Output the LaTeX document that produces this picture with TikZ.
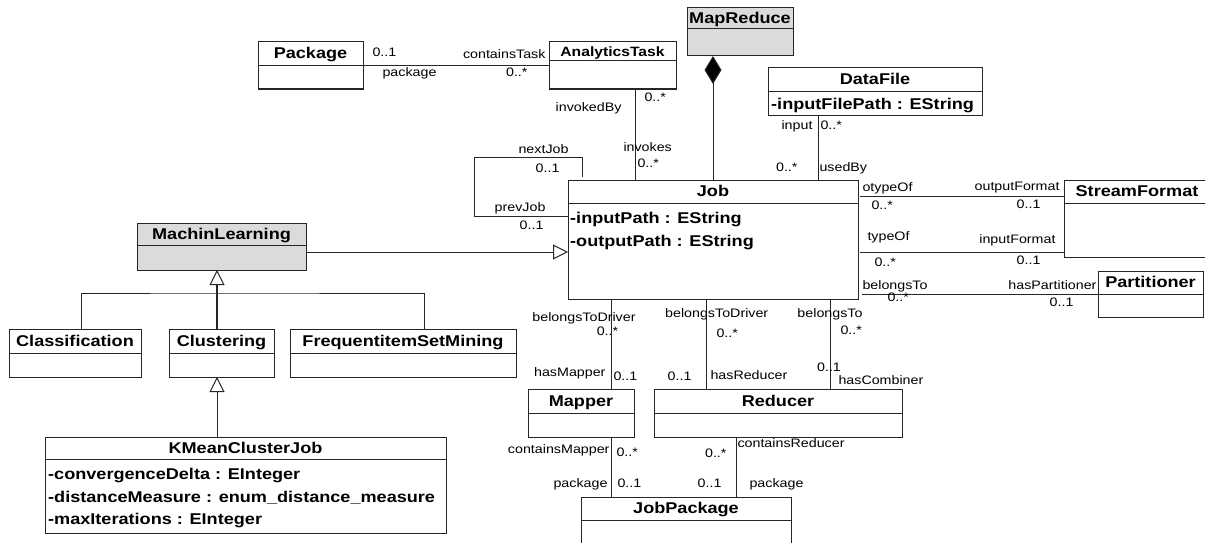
\documentclass[tikz,border=0pt]{standalone}
\usepackage{fontspec}
\setmainfont{Liberation Sans}[FakeStretch=1.16]
\usetikzlibrary{arrows.meta, positioning, calc}

\newcommand\lblfont{\fontsize{12.3}{14}\selectfont}
\newcommand\clsfont{\fontsize{15.6}{18}\selectfont\bfseries}

\tikzset{
  cls/.style={draw=black!85, line width=1pt, anchor=north west, inner sep=0pt, outer sep=0pt,
    font=\clsfont, text height=12pt, text depth=2pt},
  clsbody/.style={draw=black!85, line width=1pt, anchor=north west, inner sep=0pt, outer sep=0pt},
  abstract/.style={fill=black!14},
  attr/.style={anchor=west, inner sep=0pt, font=\clsfont, text height=12pt, text depth=2pt},
  lbl/.style={inner sep=0pt, font=\lblfont, text height=9pt, text depth=1pt},
  assoc/.style={draw=black!85, line width=1pt},
  gen/.style={assoc, -{Triangle[open, length=15pt, width=15pt, line width=1pt, fill=white]}},
  comp/.style={assoc, -{Diamond[length=28pt, width=17pt, fill=black]}},
}

\begin{document}
\begin{tikzpicture}[x=1pt, y=-1pt]
\useasboundingbox (0,0) rectangle (1205,543);

% classes
  \node[cls, minimum width=105pt, minimum height=24pt] (pkg) at (258,42) {Package};
  \node[clsbody, minimum width=105pt, minimum height=23pt] (pkg-b) at (pkg.south west) {};
  \node[cls, minimum width=127pt, minimum height=19pt, font=\fontsize{13.5}{16}\selectfont\bfseries] (atask) at (549,42) {AnalyticsTask};
  \node[clsbody, minimum width=127pt, minimum height=28pt] (atask-b) at (atask.south west) {};
  \node[cls, abstract, minimum width=106pt, minimum height=21pt] (mapred) at (687,8) {MapReduce};
  \node[clsbody, abstract, minimum width=106pt, minimum height=27pt] (mapred-b) at (mapred.south west) {};
  \node[cls, minimum width=214pt, minimum height=23pt] (dfile) at (768,68) {DataFile};
  \node[clsbody, minimum width=214pt, minimum height=24pt] (dfile-b) at (dfile.south west) {};
  \node[attr] (dfile-a1) at ([xshift=3pt, yshift=-14pt]dfile-b.north west) {-inputFilePath : EString};

  \node[cls, minimum width=290pt, minimum height=23pt] (job) at (568,180) {Job};
  \node[clsbody, minimum width=290pt, minimum height=96pt] (job-b) at (job.south west) {};
  \node[attr] (job-a1) at ([xshift=2pt, yshift=-15pt]job-b.north west) {-inputPath : EString};
  \node[attr] (job-a2) at ([xshift=2pt, yshift=-38pt]job-b.north west) {-outputPath : EString};

  \node[cls, minimum width=146pt, minimum height=23pt] (sfmt) at (1064,180) {StreamFormat};
  \node[clsbody, minimum width=146pt, minimum height=54pt] (sfmt-b) at (sfmt.south west) {};
  \node[cls, minimum width=105pt, minimum height=23pt] (part) at (1098,271) {Partitioner};
  \node[clsbody, minimum width=105pt, minimum height=23pt] (part-b) at (part.south west) {};

  \node[cls, abstract, minimum width=169pt, minimum height=22pt] (ml) at (137,223) {MachinLearning};
  \node[clsbody, abstract, minimum width=169pt, minimum height=25pt] (ml-b) at (ml.south west) {};
  \node[cls, minimum width=132pt, minimum height=24pt] (clsf) at (9,329) {Classification};
  \node[clsbody, minimum width=132pt, minimum height=24pt] (clsf-b) at (clsf.south west) {};
  \node[cls, minimum width=105pt, minimum height=24pt] (clust) at (169,329) {Clustering};
  \node[clsbody, minimum width=105pt, minimum height=24pt] (clust-b) at (clust.south west) {};
  \node[cls, minimum width=226pt, minimum height=24pt] (fsm) at (290,329) {FrequentitemSetMining};
  \node[clsbody, minimum width=226pt, minimum height=24pt] (fsm-b) at (fsm.south west) {};
  \node[cls, minimum width=401pt, minimum height=22pt] (kmean) at (45,437) {KMeanClusterJob};
  \node[clsbody, minimum width=401pt, minimum height=74pt] (kmean-b) at (kmean.south west) {};
  \node[attr] (kmean-a1) at ([xshift=3pt, yshift=-15pt]kmean-b.north west) {-convergenceDelta : EInteger};
  \node[attr] (kmean-a2) at ([xshift=3pt, yshift=-38pt]kmean-b.north west) {-distanceMeasure : enum\_distance\_measure};
  \node[attr] (kmean-a3) at ([xshift=3pt, yshift=-60pt]kmean-b.north west) {-maxIterations : EInteger};

  \node[cls, minimum width=106pt, minimum height=24pt] (mapper) at (528,389) {Mapper};
  \node[clsbody, minimum width=106pt, minimum height=24pt] (mapper-b) at (mapper.south west) {};
  \node[cls, minimum width=248pt, minimum height=24pt] (reducer) at (654,389) {Reducer};
  \node[clsbody, minimum width=248pt, minimum height=24pt] (reducer-b) at (reducer.south west) {};
  \node[cls, minimum width=210pt, minimum height=23pt] (jpkg) at (581,497) {JobPackage};
  \node[clsbody, minimum width=210pt, minimum height=30pt] (jpkg-b) at (jpkg.south west) {};

% associations
  \draw[assoc] (pkg.south east)
    -- node[lbl, pos=0, anchor=west, xshift=9pt, yshift=13pt] {0..1}
       node[lbl, pos=0, anchor=west, xshift=19pt, yshift=-7pt] {package}
       node[lbl, pos=1, anchor=east, xshift=-3pt, yshift=11pt] {containsTask}
       node[lbl, pos=1, anchor=east, xshift=-21pt, yshift=-7pt] {0..*}
    (pkg.south east -| atask.west);

  \draw[assoc] ([xshift=22.5pt]atask-b.south)
    -- node[lbl, pos=0, anchor=east, xshift=-13pt, yshift=-18pt] {invokedBy}
       node[lbl, pos=0, anchor=west, xshift=9pt, yshift=-9pt] {0..*}
       node[lbl, pos=0, anchor=west, xshift=-12pt, yshift=-58pt] {invokes}
       node[lbl, pos=0, anchor=west, xshift=2pt, yshift=-74pt] {0..*}
    ([xshift=22.5pt]atask-b.south |- job.north);

  \draw[comp] (job.north) -- (job.north |- mapred-b.south);

  \draw[assoc] ([xshift=50pt]dfile-b.south west)
    -- node[lbl, pos=0, anchor=east, xshift=-5pt, yshift=-10pt] {input}
       node[lbl, pos=0, anchor=west, xshift=2pt, yshift=-10pt] {0..*}
       node[lbl, pos=0, anchor=east, xshift=-20pt, yshift=-52pt] {0..*}
       node[lbl, pos=0, anchor=west, xshift=1pt, yshift=-52pt] {usedBy}
    ([xshift=50pt]dfile-b.south west |- job.north);

  \draw[assoc] ([xshift=14pt, yshift=3pt]job.north west) -- ++(0pt,20pt)
    -- node[lbl, pos=0, anchor=east, xshift=-13pt, yshift=8pt] {nextJob}
       node[lbl, pos=0, anchor=east, xshift=-22pt, yshift=-11pt] {0..1}
    ++(-108pt,0pt)
    |- node[lbl, pos=1, anchor=east, xshift=-22pt, yshift=9pt] {prevJob}
       node[lbl, pos=1, anchor=east, xshift=-24pt, yshift=-9pt] {0..1}
    ([yshift=-13pt]job.south west);

  \draw[assoc] ([xshift=2pt, yshift=-4.5pt]job.east)
    -- node[lbl, pos=0, anchor=west, xshift=2pt, yshift=9pt] {otypeOf}
       node[lbl, pos=0, anchor=west, xshift=11pt, yshift=-9pt] {0..*}
       node[lbl, pos=1, anchor=east, xshift=-4pt, yshift=10pt] {outputFormat}
       node[lbl, pos=1, anchor=east, xshift=-23pt, yshift=-8pt] {0..1}
    ([yshift=-4.5pt]job.east -| sfmt.west);

  \draw[assoc] ([xshift=2pt, yshift=-49pt]job.south east)
    -- node[lbl, pos=0, anchor=west, xshift=7pt, yshift=16pt] {typeOf}
       node[lbl, pos=0, anchor=west, xshift=14pt, yshift=-10pt] {0..*}
       node[lbl, pos=1, anchor=east, xshift=-8pt, yshift=13pt] {inputFormat}
       node[lbl, pos=1, anchor=east, xshift=-23pt, yshift=-8pt] {0..1}
    ([yshift=-49pt]job.south east -| sfmt-b.west);

  \draw[assoc] ([xshift=4pt, yshift=5pt]job-b.south east)
    -- node[lbl, pos=0, anchor=west, yshift=9pt] {belongsTo}
       node[lbl, pos=0, anchor=west, xshift=25pt, yshift=-3pt] {0..*}
       node[lbl, pos=1, anchor=east, xshift=-1pt, yshift=9pt] {hasPartitioner}
       node[lbl, pos=1, anchor=east, xshift=-24pt, yshift=-8pt] {0..1}
    ([yshift=5pt]job-b.south east -| part.west);

  \draw[assoc] ([xshift=30pt]mapper.north |- job-b.south)
    -- node[lbl, pos=0, xshift=-27pt, yshift=-18pt] {belongsToDriver}
       node[lbl, pos=0, xshift=-3.5pt, yshift=-32pt] {0..*}
       node[lbl, pos=0, anchor=east, xshift=-5pt, yshift=-73pt] {hasMapper}
       node[lbl, pos=0, anchor=west, xshift=2pt, yshift=-77pt] {0..1}
    ([xshift=30pt]mapper.north);

  \draw[assoc] ([xshift=-72pt]reducer.north |- job-b.south)
    -- node[lbl, pos=0, xshift=10.7pt, yshift=-14pt] {belongsToDriver}
       node[lbl, pos=0, anchor=west, xshift=10pt, yshift=-34pt] {0..*}
       node[lbl, pos=0, anchor=east, xshift=-14pt, yshift=-77pt] {0..1}
       node[lbl, pos=0, anchor=west, xshift=4pt, yshift=-76pt] {hasReducer}
    ([xshift=-72pt]reducer.north);

  \draw[assoc] ([xshift=52pt]reducer.north |- job-b.south)
    -- node[lbl, pos=0, yshift=-14pt] {belongsTo}
       node[lbl, pos=0, anchor=west, xshift=10pt, yshift=-31pt] {0..*}
       node[lbl, pos=0, xshift=-1pt, yshift=-68pt] {0..1}
       node[lbl, pos=0, anchor=west, xshift=8pt, yshift=-81pt] {hasCombiner}
    ([xshift=52pt]reducer.north);

  \draw[assoc] ([xshift=30pt]mapper-b.south)
    -- node[lbl, pos=0, anchor=east, xshift=-1pt, yshift=-12pt] {containsMapper}
       node[lbl, pos=0, anchor=west, xshift=5pt, yshift=-15pt] {0..*}
       node[lbl, pos=0, anchor=east, xshift=-3pt, yshift=-46pt] {package}
       node[lbl, pos=0, anchor=west, xshift=6pt, yshift=-46pt] {0..1}
    ([xshift=30pt]mapper-b.south |- jpkg.north);

  \draw[assoc] ([xshift=-42pt]reducer-b.south)
    -- node[lbl, pos=0, anchor=west, xshift=1pt, yshift=-6pt] {containsReducer}
       node[lbl, pos=0, anchor=east, xshift=-9pt, yshift=-16pt] {0..*}
       node[lbl, pos=0, anchor=east, xshift=-14pt, yshift=-46pt] {0..1}
       node[lbl, pos=0, anchor=west, xshift=13pt, yshift=-46pt] {package}
    ([xshift=-42pt]reducer-b.south |- jpkg.north);

% generalizations
  \draw[assoc] ([xshift=6pt]clsf.north) |- ([xshift=-4.5pt, yshift=-23pt]ml-b.south)
    -| ([xshift=21pt]fsm.north);
  \draw[gen, line width=1.8pt] ([xshift=-4.5pt]clust.north) -- ([xshift=-4.5pt]ml-b.south);
  \draw[gen] ([xshift=-4.5pt]clust-b.south |- kmean.north) -- ([xshift=-4.5pt]clust-b.south);
  \draw[gen] ([yshift=18pt]ml-b.south east) -- ([yshift=18pt]ml-b.south east -| job-b.west);

\end{tikzpicture}
\end{document}
